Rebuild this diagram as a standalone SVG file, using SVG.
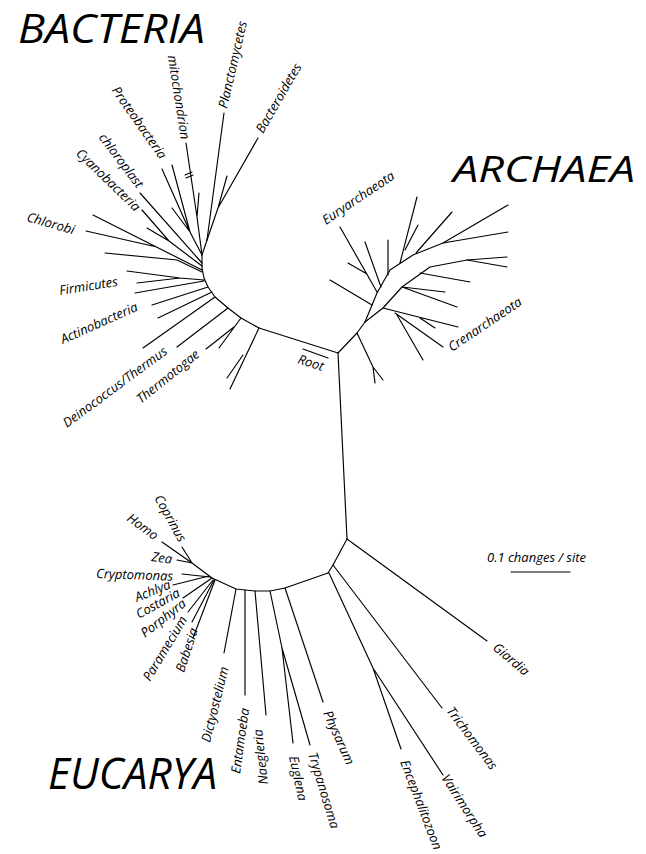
<svg xmlns="http://www.w3.org/2000/svg" width="646" height="854" viewBox="0 0 646 854">
<style>
.e{fill:none;stroke:#000;stroke-width:1.15;stroke-linecap:round;stroke-linejoin:round}
.l{font-family:"Open Sans","Noto Sans",sans-serif;font-style:italic;font-size:13px;fill:#000}
.big{font-family:"Open Sans","Noto Sans",sans-serif;font-style:italic;fill:#000}
</style>
<rect width="646" height="854" fill="#fff"/>
<g id="connectors" class="e">
<path d="M338,353 L259,328"/>
<path d="M338,353 L347,539"/>
<path d="M338,353 L357,333 L365,322"/>
<path d="M259,328 L241,318 L228,308 L215,297 L208,287 L204,278 L202,268 L202,255 L207,240"/>
<path d="M259,328 L230,389 M243,355 L227,378"/>
<path d="M241,318 L219,348 M234,327 L206,349"/>
<path d="M228,308 L177,347"/>
<path d="M215,297 L143,348"/>
<path d="M212,292 L158,318"/>
<path d="M208,287 L152,305"/>
<path d="M204,281 L135,293 M204,280 L180,278 L127,271 M180,278 L137,283"/>
<path d="M202,272 L177,260 L105,253"/>
<path d="M202,270 L93,215 M157,247 L86,231"/>
<path d="M202,266 L169,241 L142,210 M169,241 L147,228"/>
<path d="M202,263 L140,193"/>
<path d="M202,255 L190,232 L162,169 M190,232 L172,165 M190,232 L172,208"/>
<path d="M202,255 L197,217 L186,143 M197,217 L199,193"/>
<path d="M185,175 L192,172 M186,178 L193,175"/>
<path d="M207,240 L224,113"/>
<path d="M207,240 L218,208 L258,138 M218,208 L227,176"/>
<path d="M357,333 L373,367 L375,383 M373,367 L383,380"/>
<path d="M365,322 L377,293 L390,270 L413,255 L443,243 L508,205"/>
<path d="M365,322 L383,308 L402,287 L430,267 L467,260 L507,257"/>
<path d="M372,305 L330,280"/>
<path d="M377,292 L340,227 M367,274 L348,263"/>
<path d="M381,287 L365,242"/>
<path d="M388,275 L388,240"/>
<path d="M400,263 L417,197 M405,250 L418,225"/>
<path d="M416,253 L452,212"/>
<path d="M443,243 L508,232"/>
<path d="M467,260 L507,267"/>
<path d="M420,273 L470,282"/>
<path d="M402,287 L445,292 M402,287 L457,307"/>
<path d="M383,308 L458,327 M420,318 L435,328"/>
<path d="M395,313 L443,347 M397,315 L423,360"/>
<path d="M347,539 L487,641"/>
<path d="M347,539 L333,565 L328,573"/>
<path d="M333,565 L442,708"/>
<path d="M329,573 L373,668 L443,775 M373,668 L401,749"/>
<path d="M328,573 L285,588 L270,591 L255,591 L245,590 L236,589 L212,578"/>
<path d="M285,588 L323,702"/>
<path d="M270,591 L282,648 L310,745 M282,648 L293,743"/>
<path d="M255,591 L266,715"/>
<path d="M245,590 L245,695"/>
<path d="M236,589 L224,653"/>
<path d="M212,578 L192,563 L182,547 M192,563 L162,542 M192,563 L177,560"/>
<path d="M210,577 L182,574"/>
<path d="M209,576 L173,585"/>
<path d="M212,578 L183,598"/>
<path d="M213,580 L188,612"/>
<path d="M214,580 L192,622"/>
<path d="M215,580 L193,638"/>
<path d="M303,349 L328,358"/>
<path d="M511,572 L570,572"/>
</g>
<g id="BACTERIA"><text class="big" x="18" y="43" font-size="40" textLength="187" lengthAdjust="spacingAndGlyphs">BACTERIA</text></g>
<g id="ARCHAEA"><text class="big" x="453" y="182" font-size="37" textLength="182" lengthAdjust="spacingAndGlyphs">ARCHAEA</text></g>
<g id="EUCARYA"><text class="big" x="48" y="789" font-size="44" textLength="169" lengthAdjust="spacingAndGlyphs">EUCARYA</text></g>
<g id="n-planctomycetes"><text class="l" transform="translate(227,109) rotate(-77)">Planctomycetes</text></g>
<g id="n-bacteroidetes"><text class="l" transform="translate(263,134) rotate(-60)">Bacteroidetes</text></g>
<g id="n-mitochondrion"><text class="l" text-anchor="end" transform="translate(181,140) rotate(81)">mitochondrion</text></g>
<g id="n-proteobacteria"><text class="l" text-anchor="end" transform="translate(160,160) rotate(55)">Proteobacteria</text></g>
<g id="n-chloroplast"><text class="l" text-anchor="end" transform="translate(137,189) rotate(53)">chloroplast</text></g>
<g id="n-cyanobacteria"><text class="l" text-anchor="end" transform="translate(135,212) rotate(44)">Cyanobacteria</text></g>
<g id="n-chlorobi"><text class="l" transform="translate(26,221) rotate(16)">Chlorobi</text></g>
<g id="n-firmicutes"><text class="l" transform="translate(60,295) rotate(-9)">Firmicutes</text></g>
<g id="n-actinobacteria"><text class="l" transform="translate(63,344) rotate(-24)">Actinobacteria</text></g>
<g id="n-deinococcus"><text class="l" transform="translate(67,428) rotate(-36.5)">Deinococcus/Thermus</text></g>
<g id="n-thermotogae"><text class="l" transform="translate(141,404) rotate(-39)">Thermotogae</text></g>
<g id="n-root"><text class="l" transform="translate(297,363) rotate(18)">Root</text></g>
<g id="n-euryarchaeota"><text class="l" transform="translate(326,225) rotate(-34)">Euryarchaeota</text></g>
<g id="n-crenarchaeota"><text class="l" transform="translate(452,352) rotate(-34)">Crenarchaeota</text></g>
<g id="n-coprinus"><text class="l" transform="translate(154,498) rotate(61)">Coprinus</text></g>
<g id="n-homo"><text class="l" transform="translate(126,520) rotate(36)">Homo</text></g>
<g id="n-zea"><text class="l" transform="translate(151,561) rotate(8)">Zea</text></g>
<g id="n-cryptomonas"><text class="l" transform="translate(96,578) rotate(2)">Cryptomonas</text></g>
<g id="n-achlya"><text class="l" transform="translate(137,602) rotate(-22)">Achlya</text></g>
<g id="n-costaria"><text class="l" transform="translate(139,619) rotate(-29)">Costaria</text></g>
<g id="n-porphyra"><text class="l" transform="translate(145,638) rotate(-38)">Porphyra</text></g>
<g id="n-paramecium"><text class="l" transform="translate(150,682) rotate(-59)">Paramecium</text></g>
<g id="n-babesia"><text class="l" transform="translate(184,673) rotate(-72)">Babesia</text></g>
<g id="n-dictyostelium"><text class="l" transform="translate(210,743) rotate(-76)">Dictyostelium</text></g>
<g id="n-entamoeba"><text class="l" transform="translate(240,774) rotate(-82)">Entamoeba</text></g>
<g id="n-naegleria"><text class="l" transform="translate(268,784) rotate(-96)">Naegleria</text></g>
<g id="n-euglena"><text class="l" transform="translate(289,757) rotate(78)">Euglena</text></g>
<g id="n-trypanosoma"><text class="l" transform="translate(308,754) rotate(73)">Trypanosoma</text></g>
<g id="n-physarum"><text class="l" transform="translate(323,713) rotate(66)">Physarum</text></g>
<g id="n-encephalitozoon"><text class="l" transform="translate(400,762) rotate(69)">Encephalitozoon</text></g>
<g id="n-vairimorpha"><text class="l" transform="translate(441,778) rotate(57)">Vairimorpha</text></g>
<g id="n-trichomonas"><text class="l" transform="translate(446,711) rotate(53)">Trichomonas</text></g>
<g id="n-giardia"><text class="l" transform="translate(492,649) rotate(40)">Giardia</text></g>
<g id="scale"><text class="l" x="487" y="562">0.1 changes / site</text></g>
</svg>
